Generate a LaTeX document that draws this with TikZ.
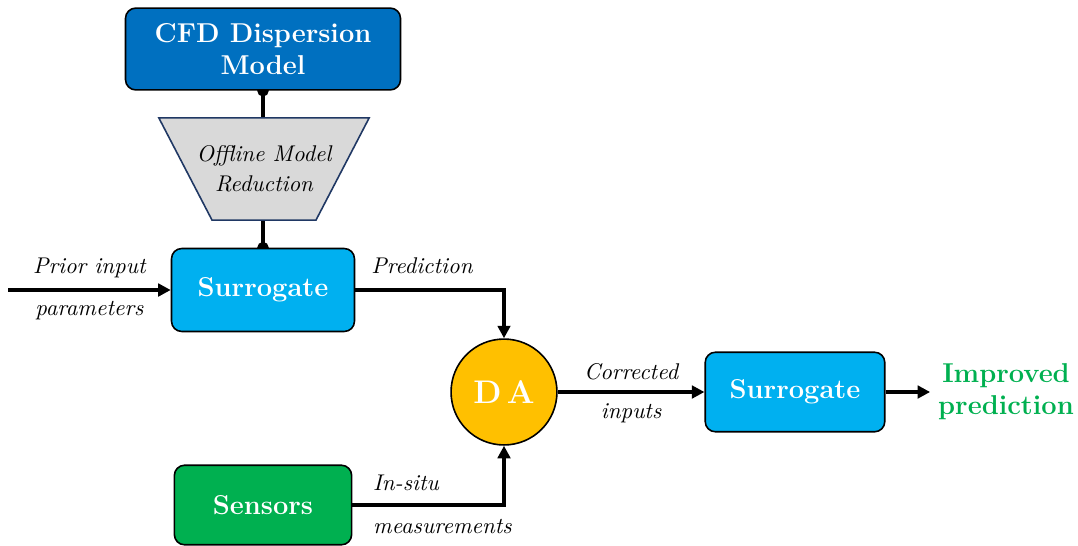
\documentclass[tikz,border=0pt]{standalone}
\usepackage{tikz}
\usetikzlibrary{shapes.geometric,arrows.meta,backgrounds}
\usepackage{xcolor}
\definecolor{cfdblue}{HTML}{0070C0}
\definecolor{surblue}{HTML}{00B0F0}
\definecolor{daorange}{HTML}{FFC000}
\definecolor{sensgreen}{HTML}{00B050}
\definecolor{redgray}{HTML}{D9D9D9}
\definecolor{rednavy}{HTML}{203864}

\begin{document}
\begin{tikzpicture}[x=0.44pt, y=0.44pt,
  box/.style={rectangle, rounded corners=4.5pt, draw, line width=0.7pt, text=white, font=\large\bfseries, align=center, fill=#1},
  lbl/.style={font=\itshape},
  link/.style={line width=1.6pt, -{Triangle[length=5.5pt, width=5.5pt]}},
  pin/.style={line width=1.6pt}]
  \useasboundingbox (0,0) rectangle (1078,545);
  \node[box=cfdblue, minimum width=121pt, minimum height=36pt] (cfd) at (263,496) {CFD Dispersion\\Model};
  \node[trapezium, shape border rotate=180, trapezium left angle=49, trapezium right angle=49, trapezium stretches, inner xsep=-6.8pt, draw=rednavy, line width=0.7pt, fill=redgray, minimum height=45pt, font=\itshape, align=center] (red) at (264,376) {Offline Model\\[1pt]Reduction};
  \node[box=surblue, minimum width=80.5pt, minimum height=36.5pt] (sur1) at (263,255) {Surrogate};
  \node[circle, draw, line width=0.7pt, fill=daorange, text=white, font=\Large\bfseries, minimum size=46.6pt] (da) at (504,153) {D\,A};
  \node[box=surblue, minimum width=79pt, minimum height=35pt] (sur2) at (795,153) {Surrogate};
  \node[box=sensgreen, minimum width=78pt, minimum height=35pt] (sens) at (263,40) {Sensors};
  \node[font=\large\bfseries, text=sensgreen, align=center] (out) at (1006,153) {Improved\\prediction};
  \coordinate (src) at (8,255);
  \begin{scope}[on background layer]
    \draw[pin, {Circle[length=5pt]}-, shorten <=-2.5pt] (cfd.south) -- (cfd.south |- red.north);
    \draw[pin, -{Circle[length=5pt]}, shorten >=-2.5pt] (sur1.north |- red.south) -- (sur1.north);
  \end{scope}
  \draw[link] (src) -- node[lbl, above=1pt] {Prior input} node[lbl, below=1pt] {parameters} (sur1.west);
  \draw[link] (sur1.east) -| node[lbl, pos=0, above right=3pt, xshift=0pt] {Prediction} (da.north);
  \draw[link] (sens.east) -| node[lbl, pos=0, above right=2pt, xshift=3pt] {In-situ} node[lbl, pos=0, below right=2pt, xshift=3pt] {measurements} (da.south);
  \draw[link] (da.east) -- node[lbl, above=1pt] {Corrected} node[lbl, below=1pt] {inputs} (sur2.west);
  \draw[link] (sur2.east) -- (out.west);
\end{tikzpicture}
\end{document}
